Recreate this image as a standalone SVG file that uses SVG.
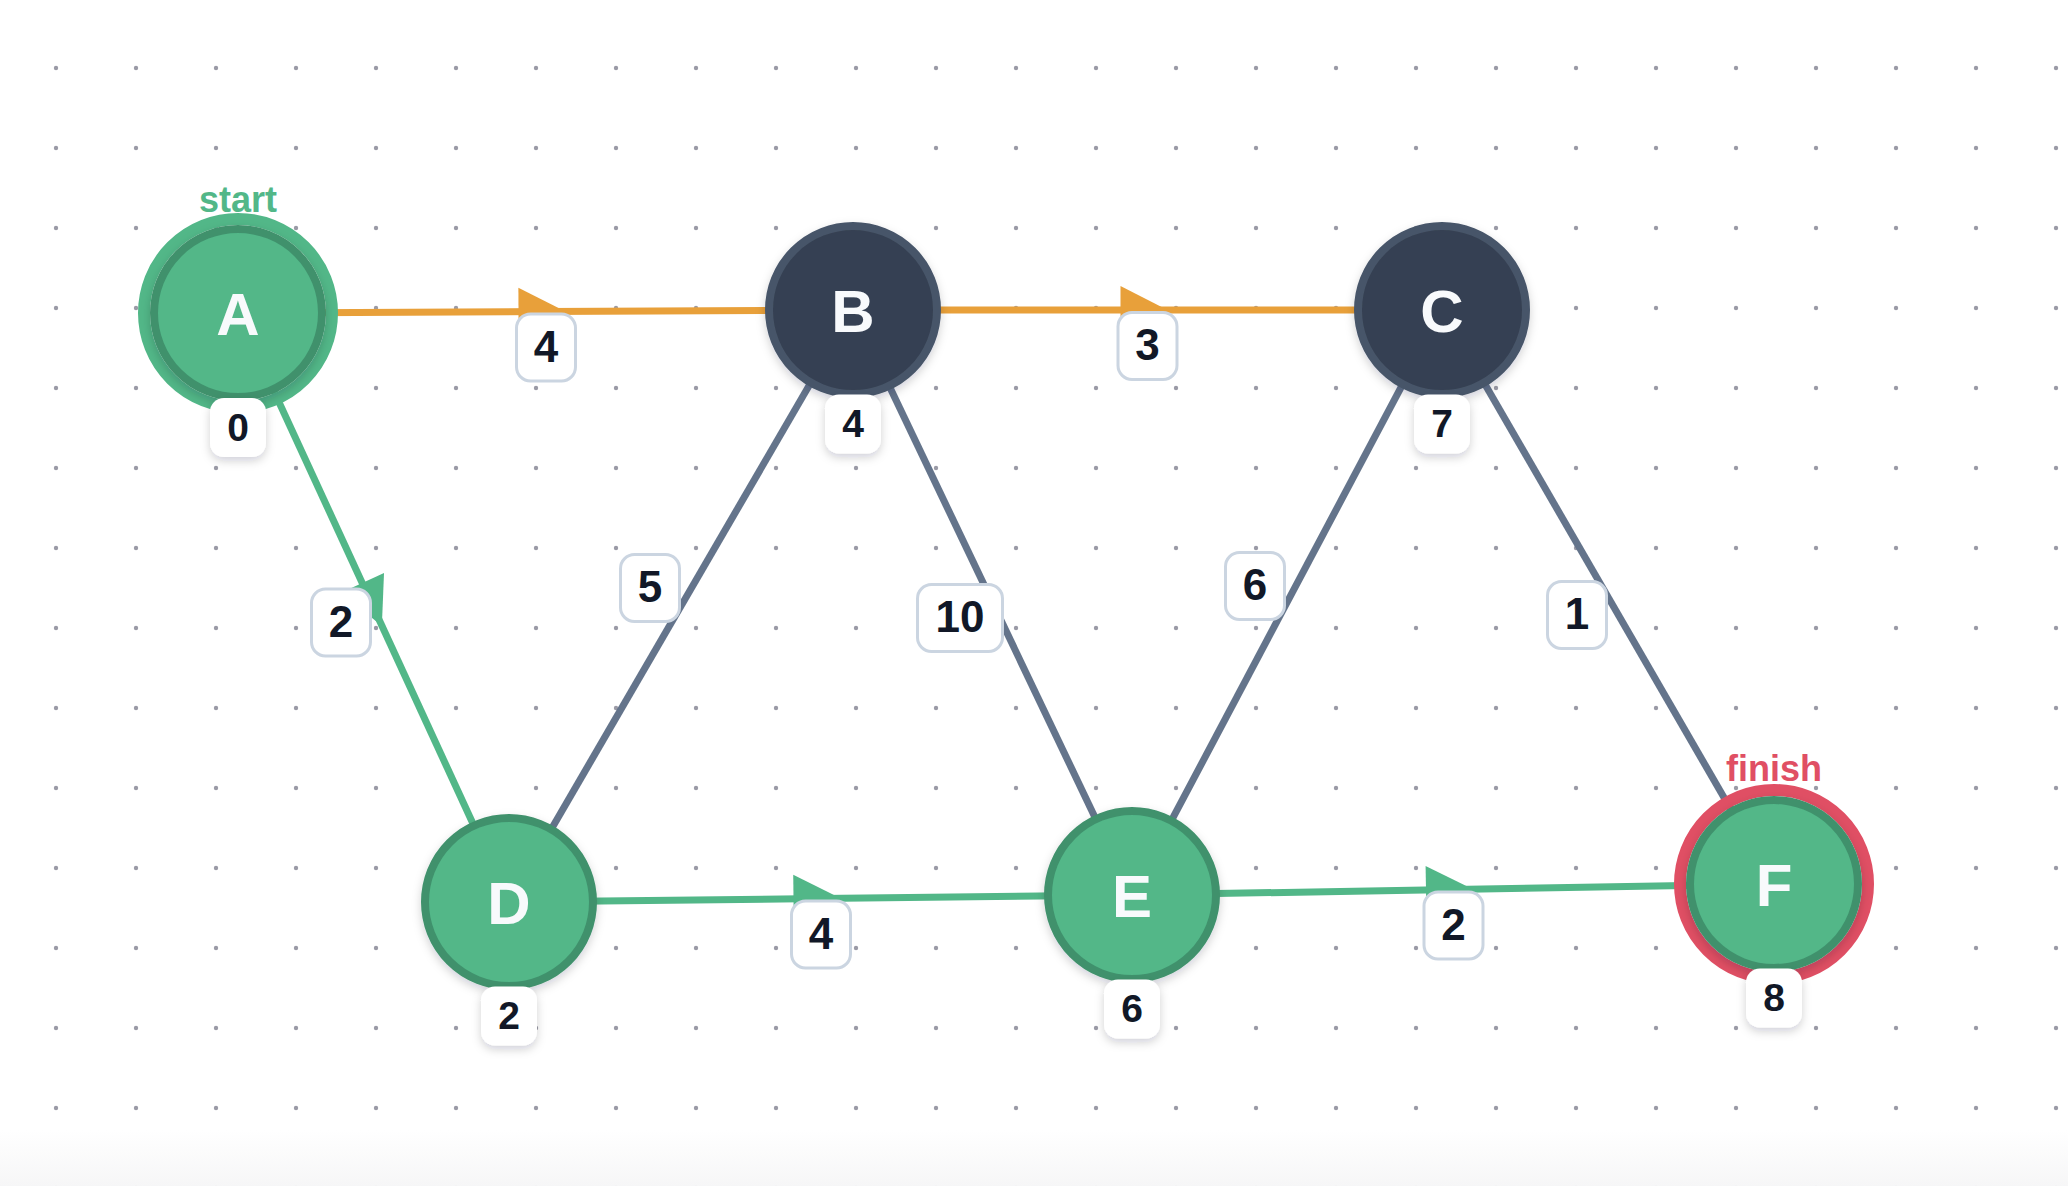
<svg xmlns="http://www.w3.org/2000/svg" width="2068" height="1186" viewBox="0 0 2068 1186">
  <style>
    .edge { fill: none; stroke-width: 7; stroke-linejoin: round; }
    .orange { stroke: #e8a03a; }
    .green { stroke: #52b788; }
    .gray { stroke: #64748b; }
    .ebadge { fill: #ffffff; stroke: #cbd5e1; stroke-width: 3; }
    .etext { font-family: "Liberation Sans", Arial, sans-serif; font-weight: bold; font-size: 44px; fill: #111827; text-anchor: middle; }
    .nbadge { fill: #ffffff; filter: url(#shadow); }
    .ntext { font-family: "Liberation Sans", Arial, sans-serif; font-weight: bold; font-size: 39px; fill: #111827; text-anchor: middle; }
    .ncircle-g { fill: #52b788; stroke: #40916c; stroke-width: 8; filter: url(#shadow); }
    .ncircle-d { fill: #364152; stroke: #475569; stroke-width: 8; filter: url(#shadow); }
    .nlabel { font-family: "Liberation Sans", Arial, sans-serif; font-weight: bold; font-size: 60px; fill: #f8fafc; text-anchor: middle; }
    .tag { font-family: "Liberation Sans", Arial, sans-serif; font-weight: bold; font-size: 36px; text-anchor: middle; }
  </style>
  <defs>
    <pattern id="dots" patternUnits="userSpaceOnUse" x="0" y="0" width="80" height="80">
      <circle cx="56" cy="68" r="2.2" fill="#9a9aa6"/>
    </pattern>
    <linearGradient id="bottomFade" x1="0" y1="0" x2="0" y2="1">
      <stop offset="0" stop-color="#f4f4f5" stop-opacity="0"/>
      <stop offset="1" stop-color="#f4f4f5" stop-opacity="0.8"/>
    </linearGradient>
    <filter id="shadow" x="-30%" y="-30%" width="160%" height="170%">
      <feDropShadow dx="0" dy="4" stdDeviation="5" flood-color="#0f172a" flood-opacity="0.18"/>
    </filter>
    <marker id="arrowOrange" markerUnits="userSpaceOnUse" markerWidth="60" markerHeight="60" refX="27" refY="24" orient="auto" overflow="visible">
      <path d="M0,0 L47,24 L0,48 Z" fill="#e8a03a"/>
    </marker>
    <marker id="arrowGreen" markerUnits="userSpaceOnUse" markerWidth="60" markerHeight="60" refX="27" refY="24" orient="auto" overflow="visible">
      <path d="M0,0 L47,24 L0,48 Z" fill="#52b788"/>
    </marker>
  </defs>

  <rect x="0" y="0" width="2068" height="1186" fill="#ffffff"/>
  <rect x="0" y="0" width="2068" height="1186" fill="url(#dots)"/>
  <rect x="0" y="1130" width="2068" height="56" fill="url(#bottomFade)"/>

  <g id="connectors">
    <path id="edge-B-D" class="edge gray" d="M853,310 L509,902"/>
    <path id="edge-B-E" class="edge gray" d="M853,310 L1132,895"/>
    <path id="edge-C-E" class="edge gray" d="M1442,310 L1132,895"/>
    <path id="edge-C-F" class="edge gray" d="M1442,310 L1774,884"/>
    <path id="edge-A-B" class="edge orange" d="M238,313 L545.5,311.5 L853,310" marker-mid="url(#arrowOrange)"/>
    <path id="edge-B-C" class="edge orange" d="M853,310 L1147.5,310 L1442,310" marker-mid="url(#arrowOrange)"/>
    <path id="edge-A-D" class="edge green" d="M238,313 L373.5,607.5 L509,902" marker-mid="url(#arrowGreen)"/>
    <path id="edge-D-E" class="edge green" d="M509,902 L820.5,898.5 L1132,895" marker-mid="url(#arrowGreen)"/>
    <path id="edge-E-F" class="edge green" d="M1132,895 L1453,889.5 L1774,884" marker-mid="url(#arrowGreen)"/>

    <g id="weight-A-B"><rect class="ebadge" x="516.5" y="314" width="59" height="67" rx="14"/><text class="etext" x="546" y="361.5">4</text></g>
    <g id="weight-B-C"><rect class="ebadge" x="1118" y="312.5" width="59" height="67" rx="14"/><text class="etext" x="1147.5" y="360">3</text></g>
    <g id="weight-A-D"><rect class="ebadge" x="311.5" y="589" width="59" height="67" rx="14"/><text class="etext" x="341" y="636.5">2</text></g>
    <g id="weight-D-E"><rect class="ebadge" x="791.5" y="901" width="59" height="67" rx="14"/><text class="etext" x="821" y="948.5">4</text></g>
    <g id="weight-E-F"><rect class="ebadge" x="1424" y="892" width="59" height="67" rx="14"/><text class="etext" x="1453.5" y="939.5">2</text></g>
    <g id="weight-B-D"><rect class="ebadge" x="620.5" y="554.5" width="59" height="67" rx="14"/><text class="etext" x="650" y="602">5</text></g>
    <g id="weight-B-E"><rect class="ebadge" x="917.5" y="584.5" width="85" height="67" rx="14"/><text class="etext" x="960" y="632">10</text></g>
    <g id="weight-C-E"><rect class="ebadge" x="1225.5" y="552.5" width="59" height="67" rx="14"/><text class="etext" x="1255" y="600">6</text></g>
    <g id="weight-C-F"><rect class="ebadge" x="1547.5" y="581.5" width="59" height="67" rx="14"/><text class="etext" x="1577" y="629">1</text></g>
  </g>

  <g id="node-A">
    <circle cx="238" cy="313" r="94" fill="none" stroke="#52b788" stroke-width="12"/>
    <circle class="ncircle-g" cx="238" cy="313" r="84"/>
    <text class="nlabel" x="238" y="334.5">A</text>
    <text class="tag" x="238" y="212" fill="#52b788">start</text>
    <rect class="nbadge" x="210" y="398" width="56" height="59" rx="14"/>
    <text class="ntext" x="238" y="440.5">0</text>
  </g>
  <g id="node-B">
    <circle class="ncircle-d" cx="853" cy="310" r="84"/>
    <text class="nlabel" x="853" y="331.5">B</text>
    <rect class="nbadge" x="825" y="394.5" width="56" height="59" rx="14"/>
    <text class="ntext" x="853" y="437">4</text>
  </g>
  <g id="node-C">
    <circle class="ncircle-d" cx="1442" cy="310" r="84"/>
    <text class="nlabel" x="1442" y="331.5">C</text>
    <rect class="nbadge" x="1414" y="394.5" width="56" height="59" rx="14"/>
    <text class="ntext" x="1442" y="437">7</text>
  </g>
  <g id="node-D">
    <circle class="ncircle-g" cx="509" cy="902" r="84"/>
    <text class="nlabel" x="509" y="923.5">D</text>
    <rect class="nbadge" x="481" y="986.5" width="56" height="59" rx="14"/>
    <text class="ntext" x="509" y="1029">2</text>
  </g>
  <g id="node-E">
    <circle class="ncircle-g" cx="1132" cy="895" r="84"/>
    <text class="nlabel" x="1132" y="916.5">E</text>
    <rect class="nbadge" x="1104" y="979.5" width="56" height="59" rx="14"/>
    <text class="ntext" x="1132" y="1022">6</text>
  </g>
  <g id="node-F">
    <circle cx="1774" cy="884" r="94" fill="none" stroke="#e04f64" stroke-width="12"/>
    <circle class="ncircle-g" cx="1774" cy="884" r="84"/>
    <text class="nlabel" x="1774" y="905.5">F</text>
    <text class="tag" x="1774" y="781" fill="#e04f64">finish</text>
    <rect class="nbadge" x="1746" y="968.5" width="56" height="59" rx="14"/>
    <text class="ntext" x="1774" y="1011">8</text>
  </g>
</svg>
